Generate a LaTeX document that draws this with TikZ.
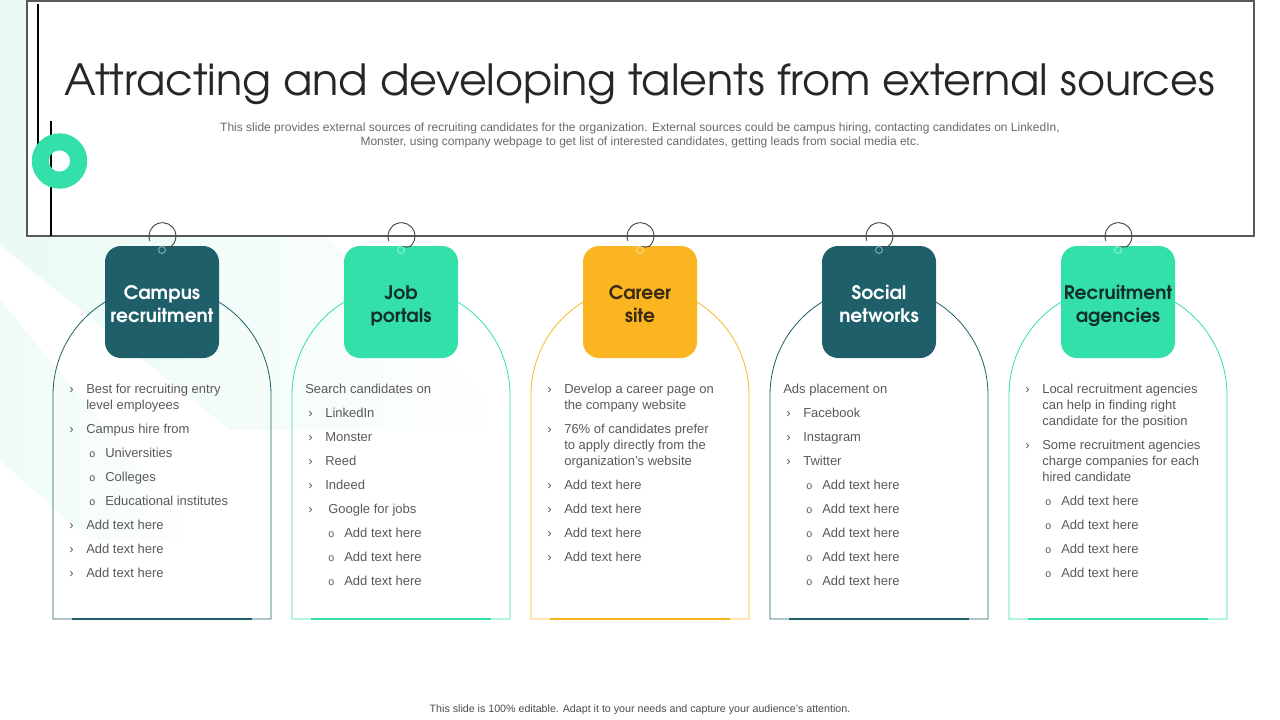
\documentclass[tikz,border=0pt]{standalone}
\usepackage{fontspec}
\setmainfont{Liberation Sans}
\newfontfamily\gothic{texgyreadventor}[Extension=.otf,UprightFont=*-regular,BoldFont=*-bold]
\definecolor{dteal}{HTML}{1E5F6A}
\definecolor{mint}{HTML}{33E0AA}
\definecolor{gold}{HTML}{FBB521}
\definecolor{txtg}{HTML}{595959}
\definecolor{ttl}{HTML}{262626}
\definecolor{hookc}{HTML}{3D4B50}
\definecolor{darkon}{HTML}{12302B}
\definecolor{brownon}{HTML}{3A2A10}
\definecolor{bgmint}{HTML}{EAFAF4}
\newcount\lnct
\tikzset{
  txt/.style={anchor=base west, inner sep=0pt, text=txtg, font=\fontsize{9.75}{11.5}\selectfont},
  subo/.style={anchor=base west, inner sep=0pt, text=txtg, font=\fontsize{8}{9}\selectfont},
  headbox/.style={rounded corners=12pt, minimum width=85.5pt, minimum height=84pt, inner sep=0pt},
  headtext/.style={anchor=base, inner sep=0pt, font=\gothic\bfseries\fontsize{14}{17.25}\selectfont},
  cardline/.style={line width=0.6pt},
  hookline/.style={draw=hookc, line width=0.7pt},
}
\newcommand\txtL[3]{\global\advance\lnct by 1 \node[txt] (t\the\lnct) at ({#1},{#2+4.5}) {#3};}
\newcommand\bulA[3]{\txtL{#1+16}{#2}{›}\txtL{#1+33}{#2}{#3}}
\newcommand\bulC[3]{\txtL{#1+33}{#2}{#3}}
\newcommand\bulS[3]{\global\advance\lnct by 1 \node[subo] (t\the\lnct) at ({#1+36},{#2+4.5}) {o};\txtL{#1+52}{#2}{#3}}
% #1 L, #2 colour, #3 label line 1, #4 label line 2, #5 label colour, #6 index
\newcommand\card[6]{%
  \draw[cardline, draw=#2] (#1,619) -- (#1,395) arc[start angle=180, end angle=360, radius=109] -- (#1+218,619) -- cycle;
  \draw[draw=#2, line width=2pt] (#1+19,619) -- (#1+199,619);
  \node[headbox, fill=#2] (h#6) at (#1+109,302) {};
  \node[headtext, text=#5] (ha#6) at (#1+109,299) {#3};
  \node[headtext, text=#5] (hb#6) at (#1+109,322) {#4};
  \draw[hookline] (#1+96.8,240.8) arc[start angle=160, end angle=410, radius=13.5]
     .. controls (#1+116,248) and (#1+113,246.5) .. (#1+109.5,246.6);
  \draw[draw=white!55!#2, line width=0.6pt] (#1+109,250) circle[radius=2.6pt];
}
\begin{document}
\begin{tikzpicture}[x=0.75pt,y=-0.75pt]
\useasboundingbox (0,0) rectangle (1280,720);
% background bands
\shade[left color=bgmint, right color=white] (0,0) -- (0,245) -- (230,430) -- (520,430) -- (90,0) -- cycle;
\shade[left color=bgmint!80!white, right color=white] (0,300) -- (0,460) -- (90,540) -- (200,540) -- cycle;
% title box
\draw[draw=txtg, line width=0.8pt, fill=white] (27,1) rectangle (1254,236);
\draw[black, line width=1.5pt] (38,4) -- (38,150);
\draw[black, line width=1.5pt] (51,121) -- (51,236);
\fill[mint, even odd rule] (59.5,161) circle[radius=20.8pt] (59.5,161) circle[radius=8pt];
\node[anchor=base, inner sep=0pt, text=ttl, font=\gothic\fontsize{32.2}{36}\selectfont] (title) at (640,96) {Attracting and developing talents from external sources};
\node[align=center, inner sep=0pt, text=txtg!90!white, font=\fontsize{9}{10.5}\selectfont] (sub) at (640,135.5)
  {This slide provides external sources of recruiting candidates for the organization. External sources could be campus hiring, contacting candidates on LinkedIn,\\
   Monster, using company webpage to get list of interested candidates, getting leads from social media etc.};
% cards
\card{53}{dteal}{Campus}{recruitment}{white}{1}
\card{292}{mint}{Job}{portals}{darkon}{2}
\card{531}{gold}{Career}{site}{brownon}{3}
\card{770}{dteal}{Social}{networks}{white}{4}
\card{1009}{mint}{Recruitment}{agencies}{darkon}{5}
% card 1
\bulA{53}{389}{Best for recruiting entry}
\bulC{53}{405}{level employees}
\bulA{53}{429}{Campus hire from}
\bulS{53}{453}{Universities}
\bulS{53}{477}{Colleges}
\bulS{53}{501}{Educational institutes}
\bulA{53}{525}{Add text here}
\bulA{53}{549}{Add text here}
\bulA{53}{573}{Add text here}
% card 2
\txtL{305}{389}{Search candidates on}
\bulA{292}{413}{LinkedIn}
\bulA{292}{437}{Monster}
\bulA{292}{461}{Reed}
\bulA{292}{485}{Indeed}
\txtL{308}{509}{›}\txtL{328}{509}{Google for jobs}
\bulS{292}{533}{Add text here}
\bulS{292}{557}{Add text here}
\bulS{292}{581}{Add text here}
% card 3
\bulA{531}{389}{Develop a career page on}
\bulC{531}{405}{the company website}
\bulA{531}{429}{76\% of candidates prefer}
\bulC{531}{445}{to apply directly from the}
\bulC{531}{461}{organization's website}
\bulA{531}{485}{Add text here}
\bulA{531}{509}{Add text here}
\bulA{531}{533}{Add text here}
\bulA{531}{557}{Add text here}
% card 4
\txtL{783}{389}{Ads placement on}
\bulA{770}{413}{Facebook}
\bulA{770}{437}{Instagram}
\bulA{770}{461}{Twitter}
\bulS{770}{485}{Add text here}
\bulS{770}{509}{Add text here}
\bulS{770}{533}{Add text here}
\bulS{770}{557}{Add text here}
\bulS{770}{581}{Add text here}
% card 5
\bulA{1009}{389}{Local recruitment agencies}
\bulC{1009}{405}{can help in finding right}
\bulC{1009}{421}{candidate for the position}
\bulA{1009}{445}{Some recruitment agencies}
\bulC{1009}{461}{charge companies for each}
\bulC{1009}{477}{hired candidate}
\bulS{1009}{501}{Add text here}
\bulS{1009}{525}{Add text here}
\bulS{1009}{549}{Add text here}
\bulS{1009}{573}{Add text here}
% footer
\node[anchor=base, inner sep=0pt, text=txtg!85!black, font=\fontsize{8}{9}\selectfont] (foot) at (640,712.5)
  {This slide is 100\% editable.  Adapt it to your needs and capture your audience's attention.};
\end{tikzpicture}
\end{document}
